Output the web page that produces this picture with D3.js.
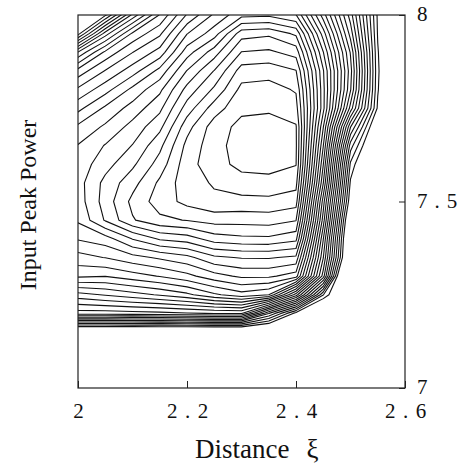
<!DOCTYPE html>
<html>
<head>
<meta charset="utf-8">
<script src="https://cdn.jsdelivr.net/npm/d3@7"></script>
<style>
  html, body { margin: 0; padding: 0; background: #fff; }
  svg { display: block; }
  text { font-family: "Liberation Serif", "DejaVu Serif", serif; fill: #111; }
</style>
</head>
<body>
<svg id="chart" width="467" height="464"></svg>
<script>
// sample grid: distance (columns) and input peak power (rows, top to bottom)
const gridX = [2.00, 2.05, 2.10, 2.15, 2.20, 2.25, 2.30, 2.35, 2.40, 2.45, 2.50, 2.55, 2.60];
const gridY = [8.00, 7.95, 7.90, 7.85, 7.80, 7.75, 7.70, 7.65, 7.60, 7.55, 7.50,
               7.45, 7.40, 7.35, 7.30, 7.25, 7.20, 7.15, 7.10, 7.05, 7.00];

// field values (one row per gridY entry)
const field = [
  [4.5, 4.8, 10.3, 14.1, 17.1, 19.2, 20.7, 20.8, 20.05, 14.5, 8.5, 0.8, -3],
  [4.6, 10.5, 14.2, 15.8, 18.96, 20.53, 23.56, 23.8, 22.8, 16.5, 9.6, 0.9, -3],
  [11.1, 14.24, 15.97, 17.41, 20.56, 22.51, 25.05, 25.2, 24.6, 18.05, 10.9, 1.1, -3],
  [14.4, 16.07, 17.54, 19.33, 22.05, 24.05, 26.46, 26.6, 26.05, 19.1, 11.4, 1.2, -3],
  [16.2, 17.6, 19.27, 20.77, 23.35, 25.2, 27.3, 27.4, 26.9, 19.3, 11.1, 1.1, -3],
  [17.7, 19.19, 20.41, 21.75, 24.47, 26.5, 27.77, 27.85, 27.4, 19.3, 9.6, 0.8, -3],
  [19.2, 20.17, 21.35, 22.72, 25.62, 27.5, 28.3, 28.4, 28.1, 18.05, 6.05, -1, -3],
  [20.05, 21.06, 22.04, 23.72, 26.3, 27.6, 28.5, 28.6, 28.15, 17.05, 3.5, -2, -3],
  [20.4, 21.61, 22.79, 24.44, 26.6, 27.6, 28.3, 28.4, 28.05, 16.05, 1.8, -3, -3],
  [20.6, 22.3, 23.63, 25.2, 26.6, 27.1, 27.58, 27.65, 27.35, 15.05, 0.8, -3, -3],
  [20.5, 22.44, 24.27, 25.48, 26.3, 26.8, 26.7, 26.75, 26.45, 13.5, 0.0, -3, -3],
  [20.15, 22.1, 23.9, 24.77, 25.05, 25.4, 25.38, 25.45, 25.05, 12.5, -1.6, -3, -3],
  [19.1, 19.54, 21.05, 22.14, 22.5, 23.5, 23.75, 23.8, 23.3, 11.05, -2.5, -3, -3],
  [17.6, 18.04, 18.65, 19.17, 19.7, 20.8, 21.08, 21.1, 20.8, 10.05, -2.8, -3, -3],
  [16.2, 16.05, 16.56, 17.06, 17.7, 18.6, 19.2, 19.2, 18.5, 8.5, -6, -6, -6],
  [12.6, 13.1, 13.6, 14.11, 14.75, 15.8, 16.6, 16.0, 10.5, 2.05, -3, -3, -3],
  [9.5, 9.5, 9.6, 9.7, 9.9, 10.05, 10.05, 5.05, 0.5, -3, -3, -3, -3],
  [-2.5, -2.5, -2.5, -2.5, -2.5, -2.5, -2.5, -2.5, -3, -3, -3, -3, -3],
  [-3, -3, -3, -3, -3, -3, -3, -3, -3, -3, -3, -3, -3],
  [-3, -3, -3, -3, -3, -3, -3, -3, -3, -3, -3, -3, -3],
  [-3, -3, -3, -3, -3, -3, -3, -3, -3, -3, -3, -3, -3]
];

const levels = [1, 2, 3, 4, 5, 6, 7, 8, 9, 10, 11, 12, 13, 14,
                15, 16, 17, 18, 19, 20, 21, 22, 23, 24, 25, 26, 27, 28];
const xTicks = [2, 2.2, 2.4, 2.6];
const yTicks = [7, 7.5, 8];

const margin = { top: 15, right: 62, bottom: 76, left: 78 };
const width = 467 - margin.left - margin.right;
const height = 464 - margin.top - margin.bottom;

const svg = d3.select("#chart");
const g = svg.append("g").attr("transform", `translate(${margin.left},${margin.top})`);

const x = d3.scaleLinear().domain([2, 2.6]).range([0, width]);
const y = d3.scaleLinear().domain([7, 8]).range([height, 0]);

// grid index -> plot position (d3.contours puts sample i at i + 0.5)
const gx = d3.scaleLinear().domain([0.5, gridX.length - 0.5]).range([x(gridX[0]), x(gridX[gridX.length - 1])]);
const gy = d3.scaleLinear().domain([0.5, gridY.length - 0.5]).range([y(gridY[0]), y(gridY[gridY.length - 1])]);

const contours = d3.contours()
  .size([gridX.length, gridY.length])
  .thresholds(levels)(field.flat());

const path = d3.geoPath(d3.geoTransform({
  point(px, py) { this.stream.point(gx(px), gy(py)); }
}));

svg.append("defs").append("clipPath").attr("id", "clip")
  .append("rect").attr("width", width).attr("height", height);

g.append("g").attr("clip-path", "url(#clip)")
  .selectAll("path").data(contours).join("path")
  .attr("d", path)
  .attr("fill", "none")
  .attr("stroke", "#111")
  .attr("stroke-width", 1.1)
  .attr("stroke-linejoin", "round");

g.append("rect").attr("width", width).attr("height", height)
  .attr("fill", "none").attr("stroke", "#222").attr("stroke-width", 1.2);

const fmt = d3.format("~g");

const xAxis = g.append("g").attr("transform", `translate(0,${height})`)
  .call(d3.axisBottom(x).tickValues(xTicks).tickFormat(fmt).tickSizeInner(-7).tickSizeOuter(0).tickPadding(15));
xAxis.select(".domain").remove();
xAxis.selectAll("line").attr("stroke", "#222");
xAxis.selectAll("text").attr("font-family", "Liberation Serif").attr("font-size", 21)
  .attr("fill", "#111").style("letter-spacing", "7.5px").attr("dx", 3.75);

const yAxis = g.append("g").attr("transform", `translate(${width},0)`)
  .call(d3.axisRight(y).tickValues(yTicks).tickFormat(fmt).tickSizeInner(-6).tickSizeOuter(0).tickPadding(12));
yAxis.select(".domain").remove();
yAxis.selectAll("line").attr("stroke", "#222");
yAxis.selectAll("text").attr("font-family", "Liberation Serif").attr("font-size", 21)
  .attr("fill", "#111").attr("dy", "0.28em").style("letter-spacing", "7px");

const xTitle = svg.append("text").attr("x", 195).attr("y", 458).attr("font-size", 27);
xTitle.append("tspan").text("Distance");
xTitle.append("tspan").attr("dx", 17).text("ξ");

svg.append("text")
  .attr("transform", "translate(36,205) rotate(-90)")
  .attr("text-anchor", "middle")
  .attr("font-size", 24)
  .text("Input Peak Power");
</script>
</body>
</html>
